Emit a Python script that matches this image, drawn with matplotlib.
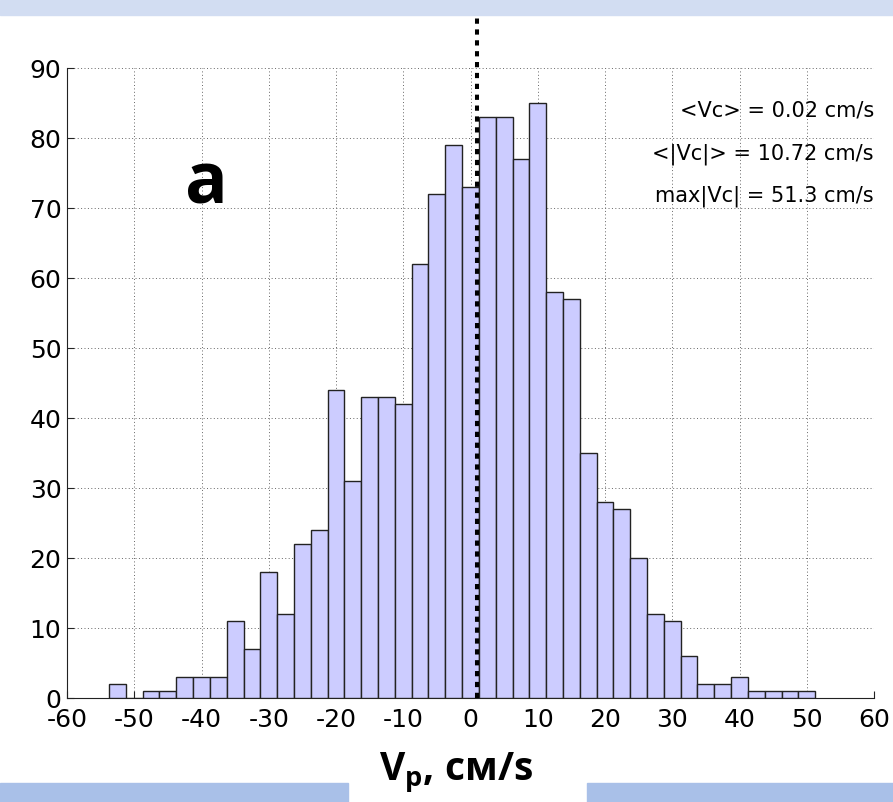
import matplotlib
matplotlib.use("Agg")
import matplotlib.pyplot as plt
from matplotlib.patches import Rectangle

plt.rcParams["axes.unicode_minus"] = False

# histogram of velocities: bin centres (cm/s) and counts
centers = [-52.5, -50, -47.5, -45, -42.5, -40, -37.5, -35, -32.5, -30, -27.5, -25, -22.5, -20,
           -17.5, -15, -12.5, -10, -7.5, -5, -2.5, 0, 2.5, 5, 7.5, 10, 12.5, 15, 17.5, 20,
           22.5, 25, 27.5, 30, 32.5, 35, 37.5, 40, 42.5, 45, 47.5, 50]
counts = [2, 0, 1, 1, 3, 3, 3, 11, 7, 18, 12, 22, 24, 44, 31, 43, 43, 42, 62, 72, 79, 73,
          83, 83, 77, 85, 58, 57, 35, 28, 27, 20, 12, 11, 6, 2, 2, 3, 1, 1, 1, 1]
bin_width = 2.5
mean_line = 0.9
xticks = [-60, -50, -40, -30, -20, -10, 0, 10, 20, 30, 40, 50, 60]
yticks = [0, 10, 20, 30, 40, 50, 60, 70, 80, 90]
stats = ["<Vc> = 0.02 cm/s", "<|Vc|> = 10.72 cm/s", "max|Vc| = 51.3 cm/s"]
stats_y = [83.0, 76.9, 70.9]

BAR, BAND_TOP, BAND_BOT = "#ccccff", "#d2ddf2", "#a9c0e8"

fig = plt.figure(figsize=(8.93, 8.02), dpi=100)
fig.patches.append(Rectangle((0, 1 - 15 / 802), 1, 15 / 802, transform=fig.transFigure,
                             color=BAND_TOP, zorder=0))
fig.patches.append(Rectangle((0, 0), 348 / 893, 19 / 802, transform=fig.transFigure,
                             color=BAND_BOT, zorder=0))
fig.patches.append(Rectangle((587 / 893, 0), 1 - 587 / 893, 19 / 802, transform=fig.transFigure,
                             color=BAND_BOT, zorder=0))

ax = fig.add_axes([67 / 893, 104 / 802, 807 / 893, 630 / 802])
ax.set_facecolor("none")
ax.bar(centers, counts, width=bin_width, color=BAR, edgecolor="#222222", linewidth=1.0, zorder=3)
ax.plot([mean_line, mean_line], [0, 97.3], color="black", lw=2.9, dashes=(1.3, 1.4),
        zorder=4, clip_on=False)

ax.set_xlim(-60, 60)
ax.set_ylim(0, 90)
ax.set_xticks(xticks)
ax.set_yticks(yticks)
ax.grid(True, color="#666666", lw=0.7, ls=(0, (1, 2.5)), zorder=0)
ax.set_axisbelow(True)
for s in ("top", "right"):
    ax.spines[s].set_visible(False)
ax.spines["left"].set_color("#222222")
ax.spines["bottom"].set_color("#222222")
ax.tick_params(direction="in", length=5, labelsize=18, colors="#222222", labelcolor="black")
ax.tick_params(axis="x", pad=7.5)
ax.tick_params(axis="y", pad=4)
for lab in ax.get_xticklabels() + ax.get_yticklabels():
    lab.set_fontfamily("DejaVu Sans")

for txt, yy in zip(stats, stats_y):
    ax.text(60, yy, txt, ha="right", va="baseline", fontsize=15, family="DejaVu Sans", zorder=5)

ax.text(-39.3, 70.7, "a", ha="center", va="baseline", fontsize=51, fontweight="bold",
        family="Open Sans", zorder=5)

fig.text(456 / 893, 1 - 780 / 802, r"V$_\mathregular{p}$, см/s", ha="center", va="baseline",
         fontsize=28, fontweight="bold", family="Open Sans")

fig.savefig("out.png", dpi=100)
